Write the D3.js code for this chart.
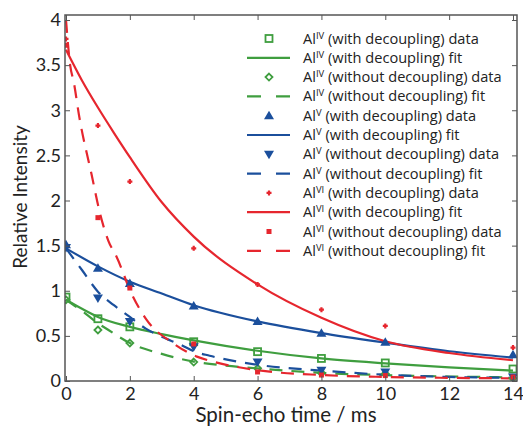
<!DOCTYPE html>
<html><head><meta charset="utf-8">
<script src="https://cdn.jsdelivr.net/npm/d3@7"></script>
<style>body{margin:0;background:#fff}</style>
</head><body>
<svg id="c" width="523" height="429"></svg>
<script>
// ---- data ----
const dataX = [0, 1, 2, 4, 6, 8, 10, 14];
const alIVwithData    = [0.93, 0.69, 0.60, 0.435, 0.325, 0.25, 0.20, 0.133];
const alIVwithoutData = [0.90, 0.565, 0.42, 0.21, 0.14, 0.09, 0.08, 0.03];
const alVwithData     = [1.51, 1.25, 1.08, 0.83, 0.66, 0.53, 0.43, 0.29];
const alVwithoutData  = [1.48, 0.92, 0.66, 0.38, 0.21, 0.12, 0.10, 0.044];
const alVIwithData    = [3.79, 2.83, 2.21, 1.47, 1.07, 0.79, 0.61, 0.37];
const alVIwithoutData = [3.72, 1.81, 1.03, 0.41, 0.10, 0.066, 0.06, 0.044];

const fitIVwithX    = [0, 0.5, 1, 2, 3, 4, 6, 8, 10, 12, 14];
const fitIVwithY    = [0.90, 0.80, 0.71, 0.60, 0.52, 0.45, 0.335, 0.25, 0.195, 0.15, 0.115];
const fitIVwithoutX = [0, 0.6, 1, 1.33, 2, 3, 4, 5, 6, 8, 10, 12, 14];
const fitIVwithoutY = [0.90, 0.75, 0.64, 0.565, 0.42, 0.30, 0.215, 0.17, 0.14, 0.09, 0.065, 0.05, 0.04];
const fitVwithX     = [0, 1, 2, 3, 4, 6, 8, 10, 12, 14];
const fitVwithY     = [1.47, 1.27, 1.10, 0.97, 0.84, 0.66, 0.53, 0.425, 0.33, 0.26];
const fitVwithoutX  = [0, 0.5, 1, 1.5, 2, 2.5, 3, 3.6, 4, 4.5, 6, 8, 10, 12, 14];
const fitVwithoutY  = [1.47, 1.23, 0.99, 0.84, 0.71, 0.58, 0.49, 0.40, 0.33, 0.28, 0.18, 0.115, 0.07, 0.045, 0.035];
const fitVIwithX    = [0, 0.5, 1, 1.5, 2, 3, 4, 6, 8, 10, 12, 14];
const fitVIwithY    = [3.67, 3.33, 3.03, 2.75, 2.48, 1.98, 1.60, 1.07, 0.70, 0.44, 0.31, 0.23];
const fitVIwithoutX = [0, 0.13, 0.25, 0.4, 0.8, 1.07, 1.33, 1.58, 2.05, 2.52, 3.35, 4.1, 4.5, 6, 8, 10, 12, 14];
const fitVIwithoutY = [4.0, 3.5, 3.3, 2.96, 2.29, 1.85, 1.55, 1.38, 0.97, 0.68, 0.42, 0.27, 0.225, 0.12, 0.066, 0.045, 0.035, 0.03];

const xTicks = [0, 2, 4, 6, 8, 10, 12, 14];
const yTicks = [0, 0.5, 1, 1.5, 2, 2.5, 3, 3.5, 4];

const GREEN = "#3f9e3f", BLUE = "#1b4f9c", RED = "#e6262e";

const series = [
  {sup:"IV", label:" (with decoupling) data", type:"pts", xs:dataX, ys:alIVwithData, color:GREEN, marker:"square"},
  {sup:"IV", label:" (with decoupling) fit", type:"line", xs:fitIVwithX, ys:fitIVwithY, color:GREEN, dash:null},
  {sup:"IV", label:" (without decoupling) data", type:"pts", xs:dataX, ys:alIVwithoutData, color:GREEN, marker:"diamond"},
  {sup:"IV", label:" (without decoupling) fit", type:"line", xs:fitIVwithoutX, ys:fitIVwithoutY, color:GREEN, dash:"13,9"},
  {sup:"V", label:" (with decoupling) data", type:"pts", xs:dataX, ys:alVwithData, color:BLUE, marker:"up"},
  {sup:"V", label:" (with decoupling) fit", type:"line", xs:fitVwithX, ys:fitVwithY, color:BLUE, dash:null},
  {sup:"V", label:" (without decoupling) data", type:"pts", xs:dataX, ys:alVwithoutData, color:BLUE, marker:"down"},
  {sup:"V", label:" (without decoupling) fit", type:"line", xs:fitVwithoutX, ys:fitVwithoutY, color:BLUE, dash:"13,9"},
  {sup:"VI", label:" (with decoupling) data", type:"pts", xs:dataX, ys:alVIwithData, color:RED, marker:"plus"},
  {sup:"VI", label:" (with decoupling) fit", type:"line", xs:fitVIwithX, ys:fitVIwithY, color:RED, dash:null},
  {sup:"VI", label:" (without decoupling) data", type:"pts", xs:dataX, ys:alVIwithoutData, color:RED, marker:"dot"},
  {sup:"VI", label:" (without decoupling) fit", type:"line", xs:fitVIwithoutX, ys:fitVIwithoutY, color:RED, dash:"13,9"}
];

// ---- layout ----
const L = 65, R = 517, T = 15, B = 381;
const x = d3.scaleLinear().domain([0, 14]).range([66, 513]);
const y = d3.scaleLinear().domain([0, 4]).range([B, 20]);
const FONT = "Lato, 'Open Sans', sans-serif";
const LFONT = "'Open Sans', Lato, sans-serif";

const svg = d3.select("#c");
const defs = svg.append("defs");
defs.append("clipPath").attr("id","clip").append("rect")
  .attr("x", L).attr("y", T).attr("width", R-L).attr("height", B-T);

const plot = svg.append("g").attr("clip-path","url(#clip)");

function drawMarker(g, kind, cx, cy, color) {
  if (kind === "square") {
    g.append("rect").attr("x", cx-3.5).attr("y", cy-3.5).attr("width",7).attr("height",7)
      .attr("fill","none").attr("stroke",color).attr("stroke-width",1.8);
  } else if (kind === "diamond") {
    g.append("path").attr("d", `M${cx},${cy-3.5}L${cx+3.5},${cy}L${cx},${cy+3.5}L${cx-3.5},${cy}Z`)
      .attr("fill","none").attr("stroke",color).attr("stroke-width",1.8);
  } else if (kind === "up") {
    g.append("path").attr("d", `M${cx},${cy-5}L${cx+5},${cy+3.5}L${cx-5},${cy+3.5}Z`).attr("fill",color);
  } else if (kind === "down") {
    g.append("path").attr("d", `M${cx},${cy+5}L${cx+5},${cy-3.5}L${cx-5},${cy-3.5}Z`).attr("fill",color);
  } else if (kind === "plus") {
    g.append("path").attr("d", `M${cx-2.5},${cy}H${cx+2.5}M${cx},${cy-2.5}V${cy+2.5}`)
      .attr("stroke",color).attr("stroke-width",2.2);
  } else if (kind === "dot") {
    g.append("rect").attr("x", cx-2.5).attr("y", cy-2.5).attr("width",5).attr("height",5).attr("fill",color);
  }
}

const line = d3.line().x(d => x(d[0])).y(d => y(d[1])).curve(d3.curveMonotoneX);

series.filter(s => s.type === "line").forEach(s => {
  plot.append("path").datum(d3.zip(s.xs, s.ys)).attr("d", line)
    .attr("fill","none").attr("stroke", s.color).attr("stroke-width", 2.2)
    .attr("stroke-dasharray", s.dash);
});
series.filter(s => s.type === "pts").forEach(s => {
  const g = plot.append("g");
  d3.zip(s.xs, s.ys).forEach(d => drawMarker(g, s.marker, x(d[0]), y(d[1]), s.color));
});

// ---- axes ----
const ax = svg.append("g").attr("font-family", FONT);
ax.append("rect").attr("x", L).attr("y", T).attr("width", R-L).attr("height", B-T)
  .attr("fill","none").attr("stroke","#555").attr("stroke-width",1.5);

const xAxis = d3.axisBottom(x).tickValues(xTicks).tickSize(-5).tickPadding(6).tickFormat(d3.format("d"));
const gx = ax.append("g").attr("transform", `translate(0,${B})`).call(xAxis);
const yAxis = d3.axisLeft(y).tickValues(yTicks).tickSize(-5).tickPadding(4).tickFormat(d => String(d));
const gy = ax.append("g").attr("transform", `translate(${L},0)`).call(yAxis);
[gx, gy].forEach(g => {
  g.select(".domain").remove();
  g.selectAll(".tick line").attr("stroke","#555").attr("stroke-width",1);
  g.selectAll(".tick text").attr("font-size", 18).attr("fill","#222").attr("font-family", FONT);
});
ax.append("g").attr("transform", `translate(0,${T})`)
  .call(d3.axisTop(x).tickValues(xTicks).tickSize(-5).tickFormat(""))
  .call(g => { g.select(".domain").remove(); g.selectAll(".tick line").attr("stroke","#555"); });
ax.append("g").attr("transform", `translate(${R},0)`)
  .call(d3.axisRight(y).tickValues(yTicks).tickSize(-5).tickFormat(""))
  .call(g => { g.select(".domain").remove(); g.selectAll(".tick line").attr("stroke","#555"); });

ax.append("text").attr("x", 286).attr("y", 422).attr("text-anchor","middle")
  .attr("font-size", 20.5).attr("fill","#222").text("Spin-echo time / ms");
ax.append("text").attr("transform","translate(27,197) rotate(-90)").attr("text-anchor","middle")
  .attr("font-size", 19).attr("fill","#222").text("Relative Intensity");

// ---- legend ----
const lg = svg.append("g").attr("font-family", LFONT);
series.forEach((s, i) => {
  const cy = 38.5 + i * 19.3;
  if (s.type === "line") {
    lg.append("line").attr("x1", 247).attr("x2", 290).attr("y1", cy).attr("y2", cy)
      .attr("stroke", s.color).attr("stroke-width", 2.2)
      .attr("stroke-dasharray", s.dash ? "14,15" : null);
  } else {
    drawMarker(lg, s.marker, 269, cy, s.color);
  }
  const t = lg.append("text").attr("x", 303).attr("y", cy + 5).attr("font-size", 14.6).attr("fill","#222");
  t.append("tspan").text("Al");
  t.append("tspan").attr("font-size", 9.5).attr("dy", -5).text(s.sup);
  t.append("tspan").attr("dy", 5).text(s.label);
});
</script>
</body></html>
